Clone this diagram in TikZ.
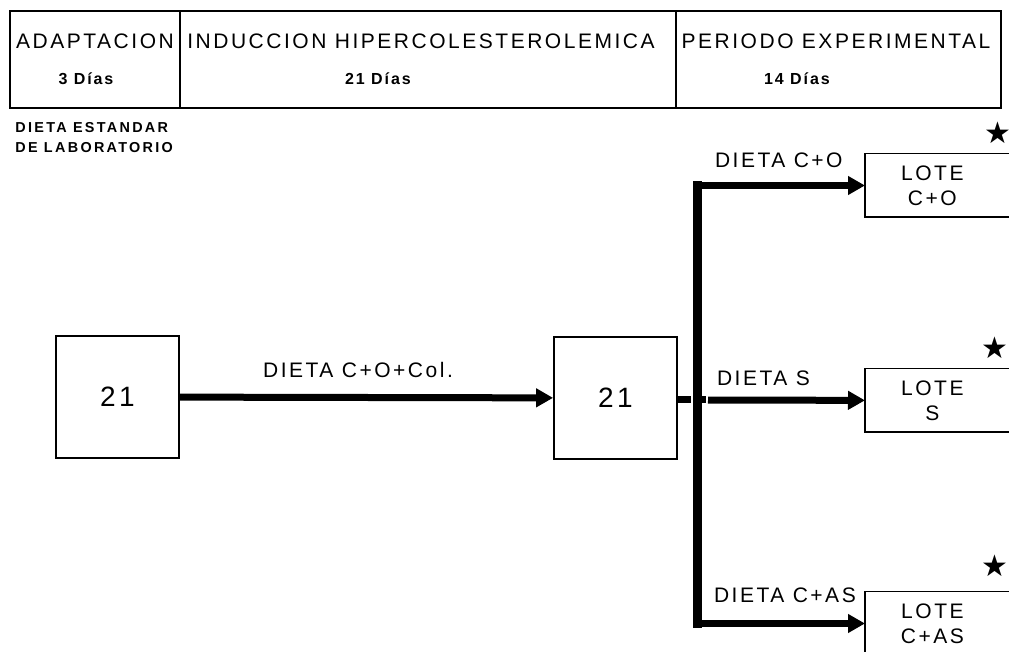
\documentclass[tikz,border=0pt]{standalone}
\usepackage{fontspec}
\setmainfont{Liberation Sans}[LetterSpace=12]
\newfontfamily\widefont{Liberation Sans}[LetterSpace=16]
\newfontfamily\starfont{DejaVu Sans}
\usetikzlibrary{
  arrows.meta,
  positioning
}

\begin{document}
\begin{tikzpicture}[x=0.5pt,y=-0.5pt,
      cell/.style={
         rectangle,
         draw,
         line width=0.9pt,
         minimum height=48.5pt,
         inner sep=0pt
      },
      title/.style={font=\fontsize{10.5}{12}\selectfont},
      days/.style={font=\fontsize{8}{9}\selectfont\bfseries},
      stage/.style={
         rectangle,
         draw,
         line width=0.9pt,
         minimum width=61.5pt,
         minimum height=61pt,
         font=\fontsize{14}{16}\selectfont
      },
      lote/.style={
         rectangle,
         minimum width=67pt,
         minimum height=31.5pt,
         align=center,
         font=\fontsize{10.5}{12.5}\selectfont
      },
      diet/.style={font=\fontsize{10.5}{12}\selectfont},
      flow/.style={line width=3.5pt,-{Triangle[length=8.5pt,width=9pt]}},
      gapline/.style={line width=3.5pt,dash pattern=on 6.5pt off 2pt on 5.5pt off 1.5pt},
      bar/.style={line width=4.5pt,line cap=rect},
      star/.style={font=\starfont\fontsize{15}{15}\selectfont,inner sep=0pt}
    ]
    \useasboundingbox (0,0) rectangle (1009,652);

    % time table
    \node[cell, minimum width=85pt]    (adapt)  at (95,59.5)    {};
    \node[cell, minimum width=248pt]   (induc)  at (428,59.5)   {};
    \node[cell, minimum width=162.5pt] (period) at (838.5,59.5) {};
    \node[title] (adaptT)  at (95,41)  {ADAPTACION};
    \node[title] (inducT)  at (421,41) {INDUCCION HIPERCOLESTEROLEMICA};
    \node[title] (periodT) at (836,41) {PERIODO EXPERIMENTAL};
    \node[days]  (adaptD)  at (86,79)  {3 Días};
    \node[days]  (inducD)  at (378,79) {21 Días};
    \node[days]  (periodD) at (797,79) {14 Días};

    \node[anchor=west, align=left, inner sep=0pt,
          font=\widefont\bfseries\fontsize{7.2}{10}\selectfont] (std) at (15,138)
         {DIETA ESTANDAR\\DE LABORATORIO};

    % stages
    \node[stage] (stageA) at (117.5,397) {21};
    \node[stage] (stageB) at (615.5,398) {21};
    \coordinate (split) at (697,400);

    \node[lote, anchor=west] (loteCO)  at (865,185.5) {LOTE\\C+O};
    \node[lote, anchor=west] (loteS)   at (865,400.5) {LOTE\\S};
    \node[lote, anchor=west] (loteCAS) at (865,623.5) {LOTE\\C+AS};
    \foreach \n in {loteCO,loteS,loteCAS}
      \draw[line width=0.9pt] ([xshift=20pt]\n.north east) -- (\n.north west)
         -- (\n.south west) -- ([xshift=20pt]\n.south east);

    \node[star] (starCO)  at (998,133) {★};
    \node[star] (starS)   at (995,348) {★};
    \node[star] (starCAS) at (995,566) {★};

    % diets
    \node[diet] (dietCol) at (358,370) {DIETA C+O+Col.};
    \node[diet, anchor=west] (dietCO)  at (708,160) {DIETA C+O};
    \node[diet, anchor=west] (dietS)   at (710,378) {DIETA S};
    \node[diet, anchor=west] (dietCAS) at (707,595) {DIETA C+AS};

    \draw[flow] (stageA) -- (stageB);
    \draw[gapline] (stageB.east |- split) -- ([xshift=5.5pt]split);
    \draw[bar] (split |- loteCO.west) -- (split |- loteCAS.west);
    \draw[flow] (split |- loteCO.west) -- (loteCO);
    \draw[flow, shorten <=5.5pt] (split) -- (loteS);
    \draw[flow] (split |- loteCAS.west) -- (loteCAS);
\end{tikzpicture}
\end{document}
